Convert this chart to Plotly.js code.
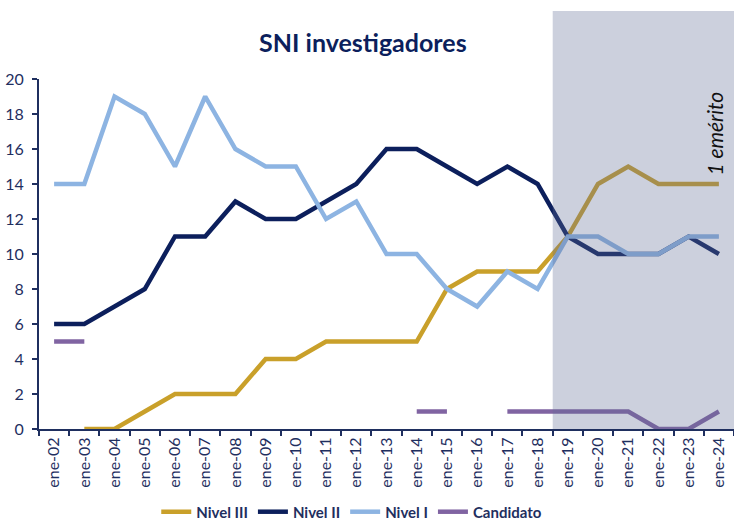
<!DOCTYPE html>
<html>
<head>
<meta charset="utf-8">
<script src="https://cdn.plot.ly/plotly-3.0.1.min.js"></script>
<style>html,body{margin:0;padding:0;background:#fff;}#chart{width:734px;height:522px;}</style>
</head>
<body>
<div id="chart"></div>
<script>
const categories = ["ene-02","ene-03","ene-04","ene-05","ene-06","ene-07","ene-08","ene-09","ene-10","ene-11","ene-12","ene-13","ene-14","ene-15","ene-16","ene-17","ene-18","ene-19","ene-20","ene-21","ene-22","ene-23","ene-24"];
const nivelIII = [null,0,0,1,2,2,2,4,4,5,5,5,5,8,9,9,9,11,14,15,14,14,14];
const nivelII = [6,6,7,8,11,11,13,12,12,13,14,16,16,15,14,15,14,11,10,10,10,11,10];
const nivelI = [14,14,19,18,15,19,16,15,15,12,13,10,10,8,7,9,8,11,11,10,10,11,11];
const candidato = [5,5,null,null,null,null,null,null,null,null,null,null,1,1,null,1,1,1,1,1,0,0,1];
const seriesNames = ["Nivel III","Nivel II","Nivel I","Candidato"];
const yTicks = [0,2,4,6,8,10,12,14,16,18,20];

const colors = ["#C9A02A","#0C1F5C","#8DB4E2","#8064A2"];
const navy = "#1F2F5F";
const font = "Lato, 'Open Sans', sans-serif";

const traces = [nivelIII, nivelII, nivelI, candidato].map((vals, i) => ({
  type: "scatter", mode: "lines",
  x: categories, y: vals, name: seriesNames[i],
  line: {color: colors[i], width: 4.5},
  connectgaps: false,
  hoverinfo: "skip"
}));

const layout = {
  width: 734, height: 522,
  margin: {l: 39, r: 0, t: 79, b: 93, autoexpand: false},
  paper_bgcolor: "#fff", plot_bgcolor: "#fff",
  font: {family: font, color: navy, size: 15},
  title: {text: "<b>SNI investigadores</b>", font: {family: font, size: 25, color: "#0C1F5C"},
          x: 0.466, xref: "paper", xanchor: "center", y: 0.917, yanchor: "middle"},
  showlegend: true,
  legend: {orientation: "h", x: 0.45, xanchor: "center", y: -0.237, yanchor: "middle",
           font: {family: font, size: 15, color: navy, weight: "bold"}, itemwidth: 30,
           tracegroupgap: 0},
  xaxis: {type: "category", range: [-0.5, 22.5], tickson: "boundaries", automargin: false,
          ticks: "outside", ticklen: 5, tickwidth: 2, tickcolor: navy,
          showline: true, linecolor: navy, linewidth: 2, showgrid: false, zeroline: false,
          tickangle: -90, tickfont: {family: font, size: 16, color: navy}, fixedrange: true},
  yaxis: {range: [0, 20], tickvals: yTicks, ticks: "outside", ticklen: 5, tickwidth: 2, tickcolor: navy,
          automargin: false,
          showline: true, linecolor: navy, linewidth: 2, showgrid: false, zeroline: false,
          tickfont: {family: font, size: 16, color: navy}, ticklabelstandoff: 5, fixedrange: true},
  shapes: [{type: "rect", layer: "above", xref: "x", yref: "paper",
            x0: 16.5, x1: 22.6, y0: 0, y1: 1.194,
            fillcolor: "rgba(96,109,150,0.32)", line: {width: 0}}],
  annotations: [{text: "<i>1 emérito</i>", xref: "x", yref: "y", x: 21.85, y: 16.9,
                 textangle: -90, showarrow: false, font: {family: font, size: 21, color: "#111"},
                 xanchor: "center", yanchor: "middle"}]
};

Plotly.newPlot("chart", traces, layout, {displayModeBar: false, staticPlot: true});
</script>
</body>
</html>
